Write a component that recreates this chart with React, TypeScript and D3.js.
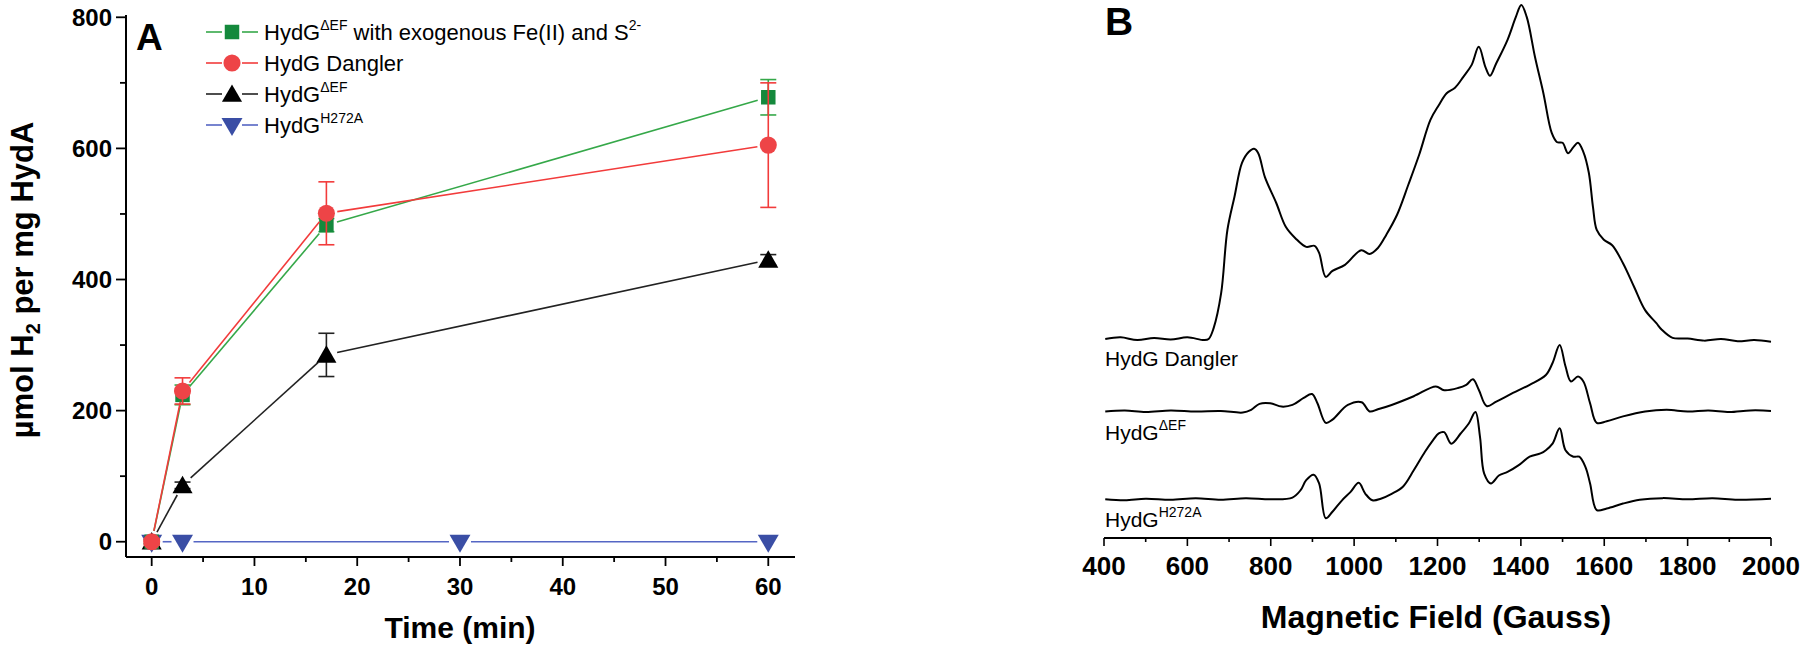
import * as d3 from "d3";

// ---- Panel A: H2 production (µmol H2 per mg HydA) ----
const TIMES = [0, 3, 17, 60];
const TIMES_H272A = [0, 3, 30, 60];

const EXO_VALUES = [0, 224, 483, 678];
const EXO_ERRORS = [3, 15, 10, 27];
const DANGLER_VALUES = [0, 230, 501, 605];
const DANGLER_ERRORS = [5, 20, 48, 95];
const DEF_VALUES = [0, 86, 285, 430];
const DEF_ERRORS = [3, 5, 33, 8];
const H272A_VALUES = [0, 0, 0, 0];
const H272A_ERRORS = [0, 0, 0, 0];

const X_TICKS_A = [0, 10, 20, 30, 40, 50, 60];
const Y_TICKS_A = [0, 200, 400, 600, 800];

// ---- Panel B: EPR spectra, [field (G), signal (a.u.)] ----
const SPEC_DANGLER: [number, number][] = [
  [403, 0], [440, 0.3], [480, -0.2], [520, 0.2], [560, -0.1], [600, 0.3], [640, -0.2], [651, 0],
  [663, 2.0], [681, 8.4], [696, 20.0], [713, 26.1], [731, 32.3], [747, 34.3], [760, 34.9],
  [770, 34.1], [786, 29.7], [813, 25.0], [836, 20.6], [859, 18.5], [885, 16.9], [905, 17.1],
  [916, 15.8], [932, 11.4], [948, 12.5], [978, 13.6], [1017, 16.3], [1037, 15.6], [1057, 16.7],
  [1077, 19.1], [1103, 22.8], [1130, 28.3], [1156, 33.8], [1183, 40.2], [1203, 42.9],
  [1222, 45.1], [1242, 46.1], [1262, 48.1], [1282, 50.3], [1299, 53.6], [1315, 49.9],
  [1326, 48.3], [1341, 50.6], [1368, 54.9], [1388, 59.1], [1401, 61.3], [1414, 59.1],
  [1434, 51.7], [1454, 45.1], [1474, 37.8], [1487, 36.1], [1500, 36.0], [1513, 34.1],
  [1526, 35.2], [1537, 36.0], [1550, 34.3], [1563, 30.5], [1573, 24.2], [1582, 20.0],
  [1599, 18.2], [1619, 17.2], [1645, 13.9], [1672, 9.5], [1698, 5.3], [1725, 2.9],
  [1738, 1.7], [1764, 0.2], [1800, 0.1], [1840, -0.3], [1880, 0], [1920, -0.4], [1960, -0.2], [2000, -0.5],
];
const SPEC_DEF: [number, number][] = [
  [403, 0], [450, 0.2], [500, -0.1], [560, 0.2], [620, 0], [680, 0.1], [733, -0.2], [753, 0.3],
  [773, 1.4], [799, 1.5], [826, 0.9], [852, 1.2], [879, 2.5], [899, 3.2], [912, 1.5],
  [932, -2.1], [948, -1.5], [985, 1.2], [1018, 1.7], [1037, 0], [1057, 0.4], [1090, 1.2],
  [1143, 2.8], [1196, 4.6], [1216, 3.9], [1249, 4.3], [1269, 4.9], [1285, 5.9], [1299, 4.0],
  [1318, 1.0], [1341, 1.8], [1381, 3.4], [1421, 4.9], [1460, 6.7], [1476, 8.9], [1493, 12.2],
  [1507, 8.3], [1520, 5.5], [1537, 6.4], [1550, 5.5], [1566, 1.5], [1582, -2.1], [1606, -1.8],
  [1645, -0.9], [1698, 0], [1750, 0.3], [1800, 0], [1850, 0.2], [1900, -0.1], [1950, 0.2], [2000, 0.1],
];
const SPEC_H272A: [number, number][] = [
  [403, 0], [450, -0.2], [500, 0.1], [560, -0.1], [620, 0.2], [680, -0.1], [740, 0.2], [800, 0],
  [852, 0.3], [872, 1.7], [885, 3.5], [903, 4.5], [916, 2.9], [932, -3.5], [948, -2.3],
  [971, -0.2], [991, 1.3], [1011, 3.0], [1027, 1.0], [1044, -0.2], [1064, 0.1], [1090, 1.0],
  [1117, 2.3], [1143, 5.3], [1170, 8.7], [1189, 10.8], [1203, 12.1], [1216, 12.3],
  [1233, 10.2], [1256, 12.1], [1275, 13.9], [1291, 16.0], [1302, 11.4], [1312, 4.7],
  [1328, 2.9], [1348, 4.4], [1368, 5.0], [1394, 6.2], [1421, 7.8], [1447, 8.4], [1460, 9.0],
  [1476, 10.2], [1493, 13.0], [1507, 9.0], [1526, 7.8], [1540, 7.8], [1555, 5.9], [1566, 2.9],
  [1582, -2.0], [1606, -1.7], [1645, -0.8], [1685, -0.1], [1740, 0.2], [1800, 0], [1860, 0.2],
  [1920, -0.1], [2000, 0.1],
];
const SPEC_OFFSETS = [37.8, 24.5, 8.4];
const SPEC_LABELS = ["Dangler", "\u0394EF", "H272A"];
const X_TICKS_B = [400, 600, 800, 1000, 1200, 1400, 1600, 1800, 2000];

const FONT = "'Liberation Sans', Arial, Helvetica, sans-serif";

interface Series {
  times: number[];
  values: number[];
  errors: number[];
  line: string;
  fill: string;
  symbol: d3.SymbolType;
  size: number;
  rotate: number;
}

const SERIES: Series[] = [
  { times: TIMES, values: DEF_VALUES, errors: DEF_ERRORS, line: "#222", fill: "#000", symbol: d3.symbolTriangle, size: 175, rotate: 0 },
  { times: TIMES_H272A, values: H272A_VALUES, errors: H272A_ERRORS, line: "#5566c4", fill: "#3a4ea5", symbol: d3.symbolTriangle, size: 190, rotate: 180 },
  { times: TIMES, values: EXO_VALUES, errors: EXO_ERRORS, line: "#35a849", fill: "#14893c", symbol: d3.symbolSquare, size: 210, rotate: 0 },
  { times: TIMES, values: DANGLER_VALUES, errors: DANGLER_ERRORS, line: "#f23b3b", fill: "#ee4447", symbol: d3.symbolCircle, size: 230, rotate: 0 },
];

// marker nudge so triangles sit visually centred on their value
const markerShift = (s: Series) => (s.symbol === d3.symbolTriangle ? (s.rotate ? -1 : 2) : 0);

function PanelA() {
  const x = d3.scaleLinear([-2.5, 62.6], [126, 795]);
  const y = d3.scaleLinear([-23.3, 803.5], [557, 15]);
  const gap = 11;

  const legend = [
    { s: SERIES[2], main: "HydG", sup: "\u0394EF", rest: " with exogenous Fe(II) and S", sup2: "2-" },
    { s: SERIES[3], main: "HydG Dangler", sup: "", rest: "", sup2: "" },
    { s: SERIES[0], main: "HydG", sup: "\u0394EF", rest: "", sup2: "" },
    { s: SERIES[1], main: "HydG", sup: "H272A", rest: "", sup2: "" },
  ];

  return (
    <g fontFamily={FONT}>
      {/* axes */}
      <line x1={126} x2={126} y1={y.range()[1]} y2={y.range()[0]} stroke="#000" strokeWidth={2} />
      <line x1={126} x2={795} y1={557} y2={557} stroke="#000" strokeWidth={2} />
      {d3.range(0, 801, 100).map((v) => (
        <line key={`yt${v}`} x1={126} x2={v % 200 === 0 ? 116 : 120} y1={y(v)} y2={y(v)} stroke="#000" strokeWidth={1.8} />
      ))}
      {d3.range(0, 61, 5).map((v) => (
        <line key={`xt${v}`} x1={x(v)} x2={x(v)} y1={557} y2={v % 10 === 0 ? 566 : 562} stroke="#000" strokeWidth={1.8} />
      ))}
      {Y_TICKS_A.map((v) => (
        <text key={`yl${v}`} x={112} y={y(v)} dy="0.36em" textAnchor="end" fontSize={24} fontWeight="bold">{v}</text>
      ))}
      {X_TICKS_A.map((v) => (
        <text key={`xl${v}`} x={x(v)} y={595} textAnchor="middle" fontSize={24} fontWeight="bold">{v}</text>
      ))}
      <text x={x(30)} y={638} textAnchor="middle" fontSize={30} fontWeight="bold">Time (min)</text>
      <text transform="translate(33,280) rotate(-90)" textAnchor="middle" fontSize={31} fontWeight="bold">
        {"\u00B5mol H"}<tspan fontSize={20} dy={7}>2</tspan><tspan dy={-7}> per mg HydA</tspan>
      </text>
      <text x={136} y={50} fontSize={37} fontWeight="bold">A</text>

      {/* series */}
      {SERIES.map((s, si) => {
        const pts = s.times.map((t, i) => [x(t), y(s.values[i])] as [number, number]);
        const segs = pts.slice(1).map((p, i) => {
          const a = pts[i];
          const dx = p[0] - a[0], dy = p[1] - a[1];
          const len = Math.hypot(dx, dy);
          if (len <= 2 * gap) return null;
          const ux = dx / len, uy = dy / len;
          return [a[0] + ux * gap, a[1] + uy * gap, p[0] - ux * gap, p[1] - uy * gap];
        });
        const sym = d3.symbol(s.symbol, s.size)()!;
        return (
          <g key={si}>
            {segs.map((sg, i) => sg && (
              <line key={i} x1={sg[0]} y1={sg[1]} x2={sg[2]} y2={sg[3]} stroke={s.line} strokeWidth={1.6} />
            ))}
            {s.times.map((t, i) => s.errors[i] > 0 && (
              <g key={`e${i}`} stroke={s.line} strokeWidth={1.6}>
                <line x1={x(t)} x2={x(t)} y1={y(s.values[i] - s.errors[i])} y2={y(s.values[i] + s.errors[i])} />
                <line x1={x(t) - 8} x2={x(t) + 8} y1={y(s.values[i] - s.errors[i])} y2={y(s.values[i] - s.errors[i])} />
                <line x1={x(t) - 8} x2={x(t) + 8} y1={y(s.values[i] + s.errors[i])} y2={y(s.values[i] + s.errors[i])} />
              </g>
            ))}
            {pts.map((p, i) => (
              <path key={`m${i}`} d={sym} fill={s.fill}
                transform={`translate(${p[0]},${p[1] + markerShift(s)}) rotate(${s.rotate})`} />
            ))}
          </g>
        );
      })}

      {/* legend */}
      {legend.map((l, i) => {
        const cy = 32 + i * 31;
        const sym = d3.symbol(l.s.symbol, l.s.size)()!;
        return (
          <g key={`lg${i}`}>
            <line x1={206} x2={222} y1={cy} y2={cy} stroke={l.s.line} strokeWidth={1.6} />
            <line x1={242} x2={258} y1={cy} y2={cy} stroke={l.s.line} strokeWidth={1.6} />
            <path d={sym} fill={l.s.fill} transform={`translate(232,${cy + markerShift(l.s)}) rotate(${l.s.rotate})`} />
            <text x={264} y={cy + 8} fontSize={22}>
              {l.main}
              {l.sup && <tspan fontSize={14} dy={-10}>{l.sup}</tspan>}
              {l.rest && <tspan dy={10}>{l.rest}</tspan>}
              {l.sup2 && <tspan fontSize={14} dy={-10}>{l.sup2}</tspan>}
            </text>
          </g>
        );
      })}
    </g>
  );
}

function PanelB() {
  const x = d3.scaleLinear([400, 2000], [1104, 1771]);
  const y = d3.scaleLinear([0, 100], [545, 0]);
  const specs = [SPEC_DANGLER, SPEC_DEF, SPEC_H272A];
  const labelY = [366, 440, 527];

  return (
    <g fontFamily={FONT}>
      {specs.map((sp, i) => {
        const line = d3.line<[number, number]>()
          .x((d) => x(d[0]))
          .y((d) => y(d[1] + SPEC_OFFSETS[i]))
          .curve(d3.curveCatmullRom.alpha(0.5));
        return <path key={i} d={line(sp)!} fill="none" stroke="#000" strokeWidth={2} strokeLinejoin="round" />;
      })}
      {SPEC_LABELS.map((lab, i) => (
        <text key={lab} x={1105} y={labelY[i]} fontSize={21}>
          {i === 0 ? "HydG Dangler" : <>HydG<tspan fontSize={14} dy={-10}>{lab}</tspan></>}
        </text>
      ))}
      <line x1={1104} x2={1771} y1={538} y2={538} stroke="#000" strokeWidth={1.8} />
      {d3.range(400, 2001, 100).map((v) => (
        <line key={v} x1={x(v)} x2={x(v)} y1={538} y2={v % 200 === 0 ? 546 : 542} stroke="#000" strokeWidth={1.6} />
      ))}
      {X_TICKS_B.map((v) => (
        <text key={`l${v}`} x={x(v)} y={575} textAnchor="middle" fontSize={26} fontWeight="bold">{v}</text>
      ))}
      <text x={1436} y={628} textAnchor="middle" fontSize={32} fontWeight="bold">Magnetic Field (Gauss)</text>
      <text x={1105} y={35} fontSize={39} fontWeight="bold">B</text>
    </g>
  );
}

export default function App() {
  return (
    <svg width={1804} height={651} style={{ position: "absolute", left: 0, top: 0, background: "#fff" }}>
      <rect width={1804} height={651} fill="#fff" />
      <PanelA />
      <PanelB />
    </svg>
  );
}
